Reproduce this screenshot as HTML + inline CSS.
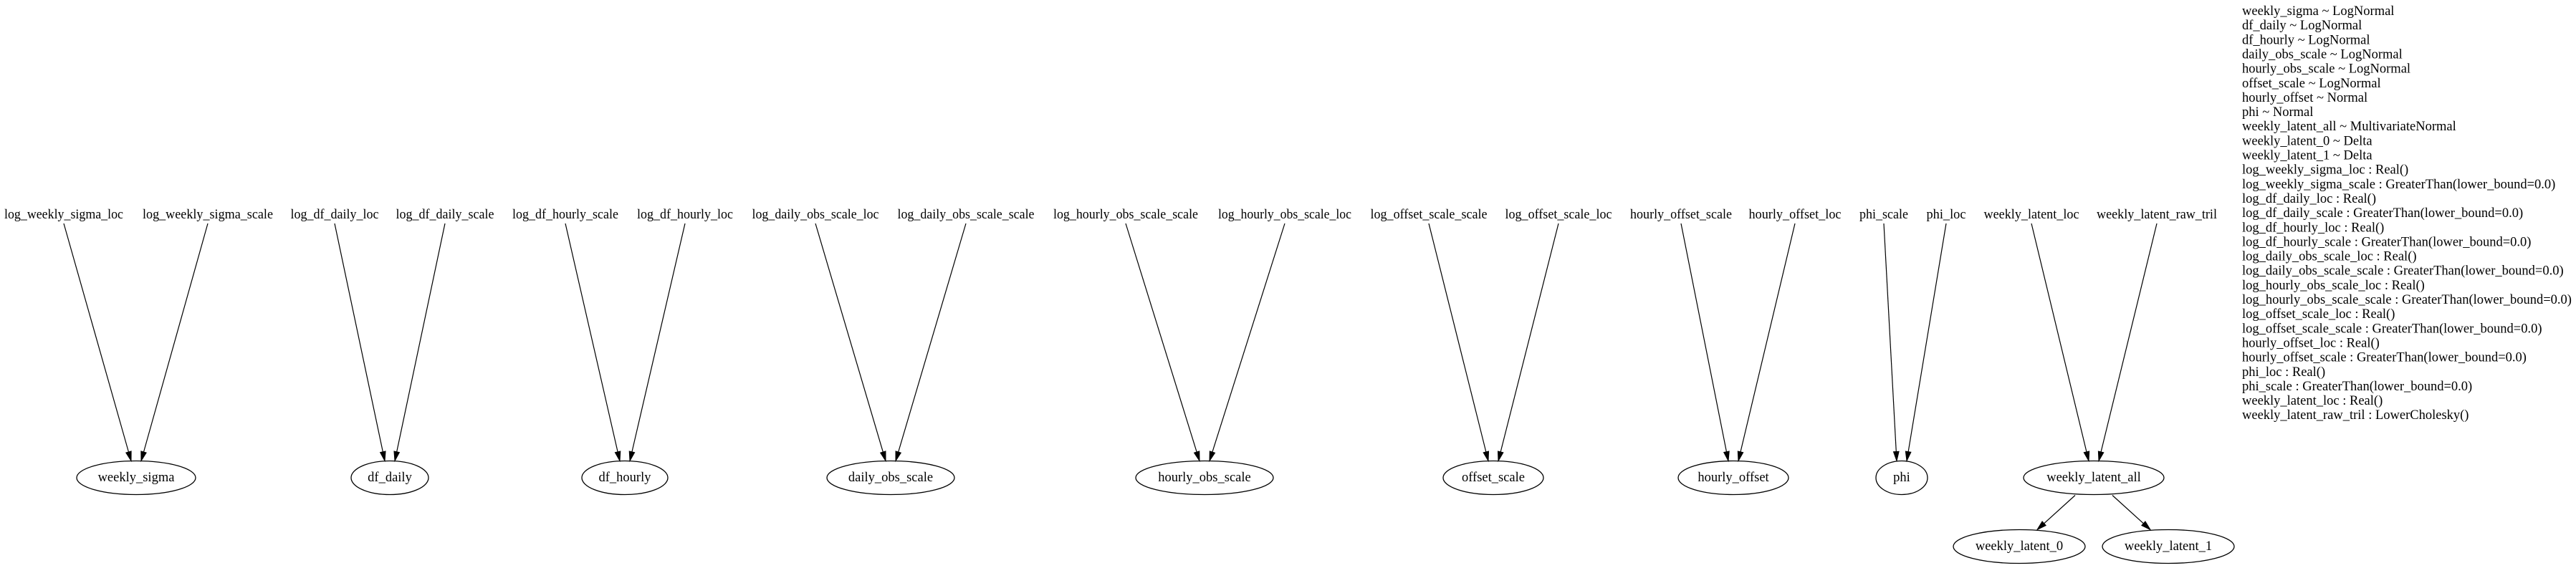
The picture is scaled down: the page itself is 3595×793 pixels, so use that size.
<!DOCTYPE html>
<html><head><meta charset="utf-8">
<style>
html,body{margin:0;padding:0;background:#fff;}
svg{display:block;}
text{font-family:"Liberation Serif","DejaVu Serif",serif;fill:#000;}
</style></head>
<body>
<svg id="g" width="3595" height="793" viewBox="0 0 3595 793" xmlns="http://www.w3.org/2000/svg">
<rect width="3595" height="793" fill="#fff"/>
</svg>
<script>
// parameter (source) labels: name, center x, width
const paramNames = ["log_weekly_sigma_loc","log_weekly_sigma_scale","log_df_daily_loc","log_df_daily_scale","log_df_hourly_scale","log_df_hourly_loc","log_daily_obs_scale_loc","log_daily_obs_scale_scale","log_hourly_obs_scale_scale","log_hourly_obs_scale_loc","log_offset_scale_scale","log_offset_scale_loc","hourly_offset_scale","hourly_offset_loc","phi_scale","phi_loc","weekly_latent_loc","weekly_latent_raw_tril"];
const paramX = [89,290,467,621,789,956,1138,1348,1571,1793,1994,2175,2346,2505,2629,2716,2835,3010];
const paramW = [166,182,123,137,148,134,177,191,202,186,163,149,142,129,68,55,133,168];
// random-variable ellipse nodes
const nodeNames = ["weekly_sigma","df_daily","df_hourly","daily_obs_scale","hourly_obs_scale","offset_scale","hourly_offset","phi","weekly_latent_all","weekly_latent_0","weekly_latent_1"];
const nodeX = [190,544,872,1243,1681,2084,2419,2654,2922,2818,3026];
const nodeY = [667,667,667,667,667,667,667,667,667,763,763];
const nodeRx = [83,54,60,89,96,70,77,36,98,92,92];
// edges: [source param index -> node index]
const paramEdges = [[0,0],[1,0],[2,1],[3,1],[4,2],[5,2],[6,3],[7,3],[8,4],[9,4],[10,5],[11,5],[12,6],[13,6],[14,7],[15,7],[16,8],[17,8]];
const nodeEdges = [[8,9],[8,10]];
// legend text lines
const legendLines = ["weekly_sigma ~ LogNormal","df_daily ~ LogNormal","df_hourly ~ LogNormal","daily_obs_scale ~ LogNormal","hourly_obs_scale ~ LogNormal","offset_scale ~ LogNormal","hourly_offset ~ Normal","phi ~ Normal","weekly_latent_all ~ MultivariateNormal","weekly_latent_0 ~ Delta","weekly_latent_1 ~ Delta","log_weekly_sigma_loc : Real()","log_weekly_sigma_scale : GreaterThan(lower_bound=0.0)","log_df_daily_loc : Real()","log_df_daily_scale : GreaterThan(lower_bound=0.0)","log_df_hourly_loc : Real()","log_df_hourly_scale : GreaterThan(lower_bound=0.0)","log_daily_obs_scale_loc : Real()","log_daily_obs_scale_scale : GreaterThan(lower_bound=0.0)","log_hourly_obs_scale_loc : Real()","log_hourly_obs_scale_scale : GreaterThan(lower_bound=0.0)","log_offset_scale_loc : Real()","log_offset_scale_scale : GreaterThan(lower_bound=0.0)","hourly_offset_loc : Real()","hourly_offset_scale : GreaterThan(lower_bound=0.0)","phi_loc : Real()","phi_scale : GreaterThan(lower_bound=0.0)","weekly_latent_loc : Real()","weekly_latent_raw_tril : LowerCholesky()"];

const NS="http://www.w3.org/2000/svg";
const svg=document.getElementById('g');
const RY=23.5, LABEL_Y=300, EDGE_TOP=312, FS=18.5;
function mk(tag,attrs){const e=document.createElementNS(NS,tag);for(const k in attrs)e.setAttribute(k,attrs[k]);svg.appendChild(e);return e;}

function arrow(x1,y1,x2,y2,name){
  const dx=x2-x1,dy=y2-y1,L=Math.hypot(dx,dy),ux=dx/L,uy=dy/L,al=13,aw=3.8;
  const bx=x2-ux*al,by=y2-uy*al;
  const ln=mk('line',{x1:x1,y1:y1,x2:bx,y2:by,stroke:'#000','stroke-width':1.2});
  
  
  const p=mk('polygon',{points:`${x2},${y2} ${bx-uy*aw},${by+ux*aw} ${bx+uy*aw},${by-ux*aw}`,fill:'#000',stroke:'#000','stroke-width':1});
  
  
}

paramNames.forEach((n,i)=>{
  const t=mk('text',{x:paramX[i],y:LABEL_Y,'text-anchor':'middle','dominant-baseline':'central','font-size':FS,textLength:paramW[i],lengthAdjust:'spacingAndGlyphs'});
  t.textContent=n;
  
  
});

nodeNames.forEach((n,i)=>{
  const e=mk('ellipse',{cx:nodeX[i],cy:nodeY[i],rx:nodeRx[i],ry:RY,fill:'none',stroke:'#000','stroke-width':1.3});
  
  
  const t=mk('text',{x:nodeX[i],y:nodeY[i],'text-anchor':'middle','dominant-baseline':'central','font-size':FS});
  t.textContent=n;
  
  
});

paramEdges.forEach(([s,d])=>{
  const sx=paramX[s];
  const side = sx<nodeX[d] ? -1 : 1;
  const tx=nodeX[d]+side*7, ty=nodeY[d]-RY;
  arrow(sx,EDGE_TOP,tx,ty,'edge-'+paramNames[s].replace(/_/g,'-'));
});

nodeEdges.forEach(([s,d])=>{
  const side = nodeX[d]<nodeX[s] ? -1 : 1;
  const x1=nodeX[s]+side*26, y1=nodeY[s]+RY+1;
  const tx=nodeX[d]-side*25, ty=nodeY[d]-RY;
  arrow(x1,y1,tx,ty,'edge-'+nodeNames[s].replace(/_/g,'-')+'-to-'+nodeNames[d].replace(/_/g,'-'));
});

legendLines.forEach((l,i)=>{
  const t=mk('text',{x:3129,y:16+i*20.15,'dominant-baseline':'central','font-size':FS});
  t.textContent=l;
  
  
});
</script>
</body></html>
